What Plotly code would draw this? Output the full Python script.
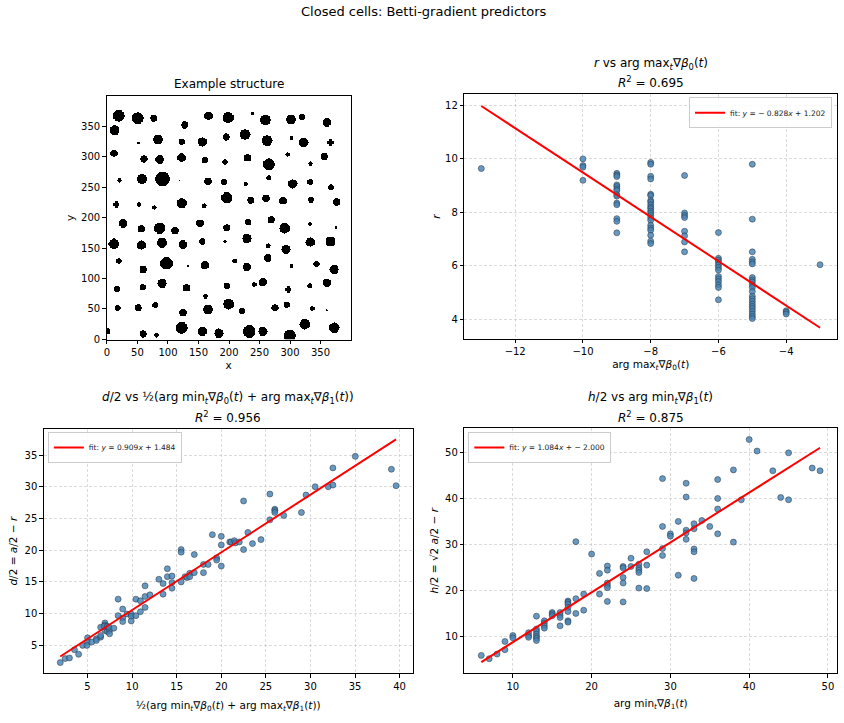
import numpy as np
import plotly.graph_objects as go

# ---------------- data ----------------
# Example structure: circles (cx, cy, radius) in a 400x400 image
circle_cx = [20, 51, 77, 167, 199, 239, 260, 302, 320, 361, 128, 13,
             52, 84, 123, 157, 196, 227, 263, 303, 323, 367,
             12, 61, 87, 123, 161, 194, 231, 266, 297, 334, 357,
             21, 58, 92, 119, 166, 192, 228, 266, 305, 334, 368,
             16, 53, 78, 123, 160, 197, 236, 261, 289, 335, 377,
             27, 57, 87, 112, 153, 197, 232, 270, 292, 333, 376,
             12, 57, 91, 125, 157, 194, 230, 265, 294, 334, 367,
             20, 60, 98, 133, 161, 210, 230, 264, 303, 344, 373,
             17, 59, 91, 131, 197, 242, 256, 298, 333, 361, 162,
             18, 52, 80, 125, 166, 200, 222, 276, 295, 337, 361,
             1, 60, 82, 123, 157, 184, 234, 256, 300, 325, 373]
circle_cy = [368, 364, 364, 368, 365, 372, 361, 362, 366, 357, 353, 344,
             323, 329, 325, 325, 333, 337, 327, 331, 324, 324,
             306, 297, 296, 299, 295, 292, 299, 288, 304, 289, 301,
             262, 264, 264, 261, 260, 259, 256, 266, 256, 259, 250,
             222, 222, 217, 224, 220, 233, 229, 232, 228, 230, 226,
             191, 182, 183, 179, 191, 184, 193, 197, 183, 190, 184,
             157, 155, 159, 156, 161, 161, 166, 154, 148, 160, 161,
             129, 115, 125, 121, 122, 129, 119, 134, 121, 124, 115,
             83, 86, 92, 85, 88, 90, 94, 82, 88, 93, 71,
             52, 52, 56, 44, 49, 58, 47, 52, 57, 51, 48,
             13, 9, 7, 19, 13, 10, 13, 13, 6, 25, 19]
circle_r = [9.7, 9.7, 6, 7, 9.2, 2.7, 8.6, 8, 5.4, 7, 6, 8,
            2, 8, 5.4, 7.6, 6, 8.6, 8.6, 3.2, 7.6, 4.9,
            6, 6, 7, 7, 5.4, 4.9, 6.5, 9.7, 3.8, 3.8, 6,
            3.8, 8, 12, 1.4, 6.5, 5.4, 3.2, 4.3, 7.6, 5.4, 4.9,
            4.9, 3.8, 3.8, 8, 3.8, 9.2, 6, 6.5, 6.5, 5.4, 6.5,
            7, 6.5, 9.2, 6.5, 6.5, 6, 5.4, 6.5, 8.6, 3.2, 2.4,
            8.6, 7.6, 8, 7, 5.4, 2.7, 7.6, 3.8, 7.6, 7.6, 8,
            4.9, 6.5, 10.3, 2.4, 7, 3.8, 7, 6.5, 3.2, 4.9, 7.6,
            5.4, 5.4, 7.6, 6.5, 5.4, 4.3, 7, 4.9, 4.3, 7, 4.3,
            4.9, 6, 4.9, 6.5, 8, 8.6, 5.4, 6, 5.4, 4.3, 2,
            5.4, 6, 3.8, 9.7, 7.6, 7.6, 10.3, 7.6, 9.7, 8.6, 8.6]
image_size = 400

# r vs argmax grad beta0
tr_x = ([-13] + [-10] * 4 + [-9] * 14 + [-8] * 22 + [-7] * 8 + [-6] * 13 + [-5] * 22 + [-4] * 3 + [-3])
tr_y = ([9.63] +
        [9.99, 9.74, 9.68, 9.19] +
        [9.45, 9.39, 9.33, 9.02, 8.96, 8.87, 8.81, 8.65, 8.60, 8.34, 8.28, 7.76, 7.66, 7.23] +
        [9.86, 9.79, 9.34, 9.24, 8.67, 8.62, 8.44, 8.38, 8.28, 8.19, 8.13, 8.04, 7.97, 7.88,
         7.79, 7.70, 7.51, 7.41, 7.33, 7.14, 6.92, 6.83] +
        [9.37, 7.97, 7.88, 7.80, 7.29, 7.12, 6.89, 6.52] +
        [7.24, 6.28, 6.21, 6.13, 6.03, 5.94, 5.84, 5.60, 5.51, 5.41, 5.29, 5.19, 4.73] +
        [9.79, 7.74, 6.52, 6.24, 6.15, 6.07, 5.56, 5.47, 5.39, 5.29, 5.19, 5.04, 4.86, 4.77,
         4.67, 4.57, 4.48, 4.40, 4.30, 4.20, 4.11, 4.03] +
        [4.32, 4.27, 4.20] +
        [6.04])
tr_fit = (-0.828, 1.202)

# d/2 vs 1/2(argmin b0 + argmax b1)
bl_x = [1.94, 2.49, 2.97, 3.53, 4.0, 4.45, 5.0, 5.0, 4.93, 5.48, 5.99, 5.99, 6.47, 6.47, 6.47,
        6.95, 6.95, 6.95, 6.84, 7.21, 7.21, 7.47, 7.47, 7.4, 7.95, 8.43, 8.43, 8.94, 8.94, 8.94,
        9.42, 9.9, 9.9, 9.9, 10.42, 10.42, 10.93, 10.93, 11.45, 11.45, 11.45, 12.0, 13.0, 13.47,
        13.47, 13.95, 13.95, 14.47, 14.47, 14.47, 15.5, 15.5, 15.5, 15.94, 16.16, 16.46, 16.46,
        16.97, 16.97, 18.0, 18.0, 18.52, 19.0, 19.48, 19.48, 20.0, 20.0, 20.0, 20.95, 21.1,
        21.47, 21.58, 22.02, 22.5, 22.5, 22.98, 23.5, 24.45, 25.45, 25.45, 26.0, 26.0, 26.0,
        27.0, 28.99, 29.5, 30.53, 32.0, 32.52, 32.52, 35.03, 39.08, 39.6]
bl_y = [2.29, 2.92, 3.02, 4.32, 3.6, 5.0, 6.2, 5.52, 5.0, 5.52, 6.04, 5.78, 6.3, 6.56, 7.86,
        8.54, 8.23, 7.34, 8.02, 8.02, 7.19, 7.34, 6.82, 7.86, 7.71, 9.69, 12.29, 10.73, 9.32, 8.75,
        9.95, 9.95, 9.58, 8.85, 12.29, 9.69, 12.03, 10.31, 10.99, 12.71, 14.38, 12.97, 15.42, 14.74,
        13.07, 17.08, 15.83, 15.94, 14.9, 14.01, 20.1, 19.69, 15.0, 15.83, 15.68, 16.35, 15.83,
        19.32, 16.46, 16.46, 17.76, 17.76, 22.45, 18.8, 18.44, 22.19, 20.83, 17.5, 21.3, 21.3,
        21.51, 21.15, 21.3, 20.1, 27.76, 22.81, 21.04, 21.67, 28.85, 24.79, 26.46, 26.25, 25.94,
        25.47, 25.94, 28.7, 30.0, 30.0, 30.26, 32.97, 34.79, 32.76, 30.16]
bl_fit = (0.909, 1.484)

# h/2 vs argmin grad beta1
br_x = [6, 7, 8, 9, 9, 10, 10, 12, 12, 12, 13, 13, 13, 13, 13, 13, 13, 14, 14, 14, 14,
        15, 15, 15, 16, 16, 16, 16, 17, 17, 17, 17, 17, 17, 17, 18, 18, 18, 19, 19, 20,
        21, 21, 22, 22, 22, 22, 22, 22, 24, 24, 24, 24, 24, 25, 25, 26, 26, 26, 26, 26,
        27, 27, 27, 29, 29, 29, 29, 30, 30, 31, 31, 32, 32, 32, 32, 32, 33, 33, 33, 33, 33,
        34, 35, 36, 36, 36, 36, 38, 38, 39, 40, 41, 43, 44, 45, 45, 48, 49]
br_y = [5.97, 5.25, 6.26, 9.0, 7.2, 10.3, 9.8, 10.9, 10.3, 9.9, 14.5, 11.7, 11.2, 10.6, 10.1,
        9.7, 9.2, 13.5, 13.0, 12.4, 11.9, 15.3, 15.0, 14.6, 15.3, 14.7, 14.2, 12.4, 17.8, 17.5,
        17.1, 16.4, 15.5, 13.5, 13.2, 30.7, 18.3, 15.1, 19.3, 15.8, 28.0, 23.8, 19.3, 25.4, 24.5,
        21.7, 21.2, 20.7, 17.7, 25.3, 25.0, 22.9, 21.7, 17.6, 27.1, 25.3, 25.8, 25.0, 24.5, 24.0,
        20.6, 28.5, 25.6, 20.5, 44.4, 34.0, 29.2, 27.7, 32.4, 31.9, 35.1, 23.4, 43.4, 40.4, 33.2,
        32.6, 31.2, 34.6, 33.5, 29.1, 28.5, 22.7, 35.3, 34.0, 44.2, 40.1, 37.8, 32.4, 46.3, 30.6,
        39.8, 52.9, 50.4, 46.1, 40.3, 50.0, 39.8, 46.7, 46.1]
br_fit = (1.084, -2.000)

# ---------------- figure ----------------
W, H = 844, 723
FONT = "DejaVu Sans"
pt_color = "rgba(70,130,180,0.82)"
edge_color = "rgba(40,50,60,0.85)"


def dom_x(a, b):
    return [a / W, b / W]


def dom_y(top, bottom):
    return [1 - bottom / H, 1 - top / H]


fig = go.Figure()

# Image of circles (pixel centres at integer positions, like imshow)
grid = np.arange(image_size)
gx, gy = np.meshgrid(grid + 0.5, grid + 0.5)
mask = np.zeros_like(gx)
for cx, cy, r in zip(circle_cx, circle_cy, circle_r):
    mask[(gx - cx) ** 2 + (gy - cy) ** 2 <= r ** 2] = 1
fig.add_trace(go.Heatmap(z=mask, x=grid, y=grid, colorscale=[[0, "white"], [1, "black"]],
                         showscale=False, hoverinfo="skip", xaxis="x", yaxis="y", zsmooth=False))


def add_panel(xs, ys, fit, ax, legend, name):
    fig.add_trace(go.Scatter(x=xs, y=ys, mode="markers", xaxis="x" + ax, yaxis="y" + ax,
                             marker=dict(size=6, color=pt_color, line=dict(width=0.6, color=edge_color)),
                             showlegend=False, hoverinfo="skip"))
    lo, hi = min(xs), max(xs)
    fig.add_trace(go.Scatter(x=[lo, hi], y=[fit[0] * lo + fit[1], fit[0] * hi + fit[1]], mode="lines",
                             xaxis="x" + ax, yaxis="y" + ax, line=dict(color="red", width=2),
                             name=name, legend=legend, showlegend=True))


add_panel(tr_x, tr_y, tr_fit, "2", "legend",
          "fit: <i>y</i> = − 0.828<i>x</i> + 1.202")
add_panel(bl_x, bl_y, bl_fit, "3", "legend2",
          "fit: <i>y</i> = 0.909<i>x</i> + 1.484")
add_panel(br_x, br_y, br_fit, "4", "legend3",
          "fit: <i>y</i> = 1.084<i>x</i> + − 2.000")

tickfont = dict(family=FONT, size=10, color="black")
axis_common = dict(showline=True, mirror=True, linecolor="black", linewidth=1, ticks="outside",
                   ticklen=3.5, tickwidth=1, tickcolor="black", tickfont=tickfont, zeroline=False)
grid_common = dict(showgrid=True, gridcolor="rgba(175,175,175,0.45)", griddash="3px,2px", gridwidth=0.8)
title_font = dict(family=FONT, size=10.5, color="black")
legend_common = dict(bgcolor="rgba(255,255,255,0.85)", bordercolor="#cccccc", borderwidth=1,
                     font=dict(family=FONT, size=7.5, color="#222"), itemwidth=30)

fig.update_layout(
    width=W, height=H, margin=dict(l=0, r=0, t=0, b=0),
    paper_bgcolor="white", plot_bgcolor="white",
    font=dict(family=FONT, color="black"),
    xaxis=dict(domain=dom_x(104, 349), range=[-0.5, 399.5], dtick=50, tick0=0, showgrid=False,
               title=dict(text="x", font=title_font, standoff=4), **axis_common),
    yaxis=dict(domain=dom_y(97, 342), range=[-0.5, 399.5], dtick=50, tick0=0, showgrid=False,
               title=dict(text="y", font=title_font, standoff=4), **axis_common),
    xaxis2=dict(domain=dom_x(463, 837), range=[-13.5, -2.5], dtick=2, tick0=0, anchor="y2",
                title=dict(text="arg max<sub><i>t</i></sub>∇<i>β</i><sub>0</sub>(<i>t</i>)",
                           font=title_font, standoff=4), **axis_common, **grid_common),
    yaxis2=dict(domain=dom_y(95, 341), range=[3.28, 12.4], dtick=2, tick0=0, anchor="x2",
                title=dict(text="<i>r</i>", font=title_font, standoff=2), **axis_common, **grid_common),
    xaxis3=dict(domain=dom_x(41, 411), range=[0.1, 41.45], dtick=5, tick0=0, anchor="y3",
                title=dict(text="½(arg min<sub><i>t</i></sub>∇<i>β</i><sub>0</sub>(<i>t</i>) + arg max<sub><i>t</i></sub>∇<i>β</i><sub>1</sub>(<i>t</i>))",
                           font=title_font, standoff=10), **axis_common, **grid_common),
    yaxis3=dict(domain=dom_y(432, 678), range=[0.6, 39.1], dtick=5, tick0=0, anchor="x3",
                title=dict(text="<i>d</i>/2 = <i>a</i>/2 − <i>r</i>", font=title_font, standoff=4),
                **axis_common, **grid_common),
    xaxis4=dict(domain=dom_x(463, 837), range=[3.85, 51.15], dtick=10, tick0=0, anchor="y4",
                title=dict(text="arg min<sub><i>t</i></sub>∇<i>β</i><sub>1</sub>(<i>t</i>)",
                           font=title_font, standoff=8), **axis_common, **grid_common),
    yaxis4=dict(domain=dom_y(431, 678), range=[2.08, 55.4], dtick=10, tick0=0, anchor="x4",
                title=dict(text="<i>h</i>/2 = √2 <i>a</i>/2 − <i>r</i>", font=title_font, standoff=4),
                **axis_common, **grid_common),
    legend=dict(x=832 / W, y=1 - 98 / H, xanchor="right", yanchor="top", **legend_common),
    legend2=dict(x=45 / W, y=1 - 435 / H, xanchor="left", yanchor="top", **legend_common),
    legend3=dict(x=467 / W, y=1 - 435 / H, xanchor="left", yanchor="top", **legend_common),
)

annots = [
    dict(text="Closed cells: Betti-gradient predictors", x=0.5, y=12, size=13),
    dict(text="Example structure", x=(104 + 349) / 2 / W, y=85, size=12),
    dict(text="<i>r</i> vs arg max<sub><i>t</i></sub>∇<i>β</i><sub>0</sub>(<i>t</i>)",
         x=(463 + 837) / 2 / W, y=64, size=12),
    dict(text="<i>R</i><sup>2</sup> = 0.695", x=(463 + 837) / 2 / W, y=83, size=12),
    dict(text="<i>d</i>/2 vs ½(arg min<sub><i>t</i></sub>∇<i>β</i><sub>0</sub>(<i>t</i>) + arg max<sub><i>t</i></sub>∇<i>β</i><sub>1</sub>(<i>t</i>))",
         x=(41 + 411) / 2 / W, y=401, size=12),
    dict(text="<i>R</i><sup>2</sup> = 0.956", x=(41 + 411) / 2 / W, y=420, size=12),
    dict(text="<i>h</i>/2 vs arg min<sub><i>t</i></sub>∇<i>β</i><sub>1</sub>(<i>t</i>)",
         x=(463 + 837) / 2 / W, y=401, size=12),
    dict(text="<i>R</i><sup>2</sup> = 0.875", x=(463 + 837) / 2 / W, y=420, size=12),
]
for a in annots:
    fig.add_annotation(text=a["text"], x=a["x"], y=1 - a["y"] / H, xref="paper", yref="paper",
                       xanchor="center", yanchor="middle", showarrow=False,
                       font=dict(family=FONT, size=a["size"], color="black"))

fig.write_html("out.html")
